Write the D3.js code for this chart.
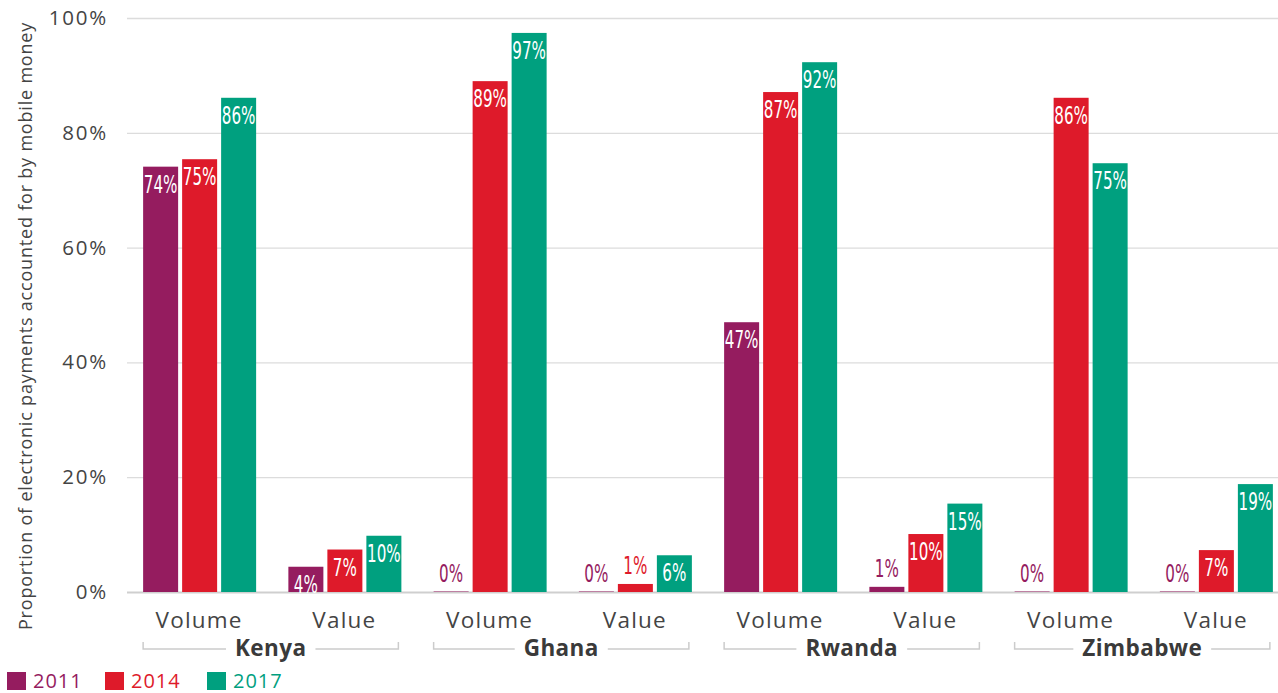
<!DOCTYPE html>
<html>
<head>
<meta charset="utf-8">
<script src="https://cdn.jsdelivr.net/npm/d3@7"></script>
<style>
  body { margin: 0; background: #fff; }
  svg { display: block; }
  .tick text { font-family: "Open Sans", sans-serif; }
</style>
</head>
<body>
<svg id="svg" width="1278" height="693"></svg>
<script>
"use strict";

// data
const countries = ["Kenya", "Ghana", "Rwanda", "Zimbabwe"];
const measures = ["Volume", "Value"];
const years = ["2011", "2014", "2017"];
const v2011 = [74.1, 4.4, 0, 0, 47.0, 0.9, 0, 0];
const v2014 = [75.4, 7.4, 89.0, 1.4, 87.1, 10.1, 86.1, 7.3];
const v2017 = [86.1, 9.8, 97.4, 6.4, 92.3, 15.4, 74.7, 18.8];
const yTicks = [0, 20, 40, 60, 80, 100];
const colors = ["#951c5f", "#de1a2a", "#00a07f"];

const series = [v2011, v2014, v2017];
const bars = countries.flatMap(c => measures.map(m => c + "|" + m));

const plotLeft = 127, plotRight = 1289, plotTop = 18, plotBottom = 592;
const labelFont = "'Liberation Sans Narrow', 'DejaVu Sans Condensed', sans-serif";
const textFont = "'Open Sans', sans-serif";

var svg = d3.select("svg");

var x0 = d3.scaleBand().domain(bars).range([plotLeft, plotRight]);
var x1 = d3.scaleBand().domain(years).range([0, 113]).paddingInner(4 / 39);
var barOffset = (x0.bandwidth() - 113) / 2;
var y = d3.scaleLinear().domain([0, 100]).range([plotBottom, plotTop]);
var color = d3.scaleOrdinal().domain(years).range(colors);

// grid + y labels
var yAxis = svg.append("g")
    .attr("transform", "translate(" + plotLeft + ",0)")
    .call(d3.axisLeft(y)
        .tickValues(yTicks)
        .tickFormat(d => d + "%")
        .tickSize(-(1278 - plotLeft))
        .tickPadding(19));
yAxis.select(".domain").remove();
yAxis.selectAll(".tick line")
    .attr("stroke", d => d === 0 ? "#cfcfcf" : "#dcdcdc")
    .attr("stroke-width", d => d === 0 ? 2 : 1.3);
yAxis.selectAll(".tick text")
    .attr("fill", "#444")
    .attr("font-size", 20.5)
    .attr("letter-spacing", 1.8);

svg.append("text")
    .attr("transform", "translate(32,326) rotate(-90)")
    .attr("text-anchor", "middle")
    .attr("font-family", textFont)
    .attr("font-size", 18)
    .attr("letter-spacing", 0.8)
    .attr("fill", "#444")
    .text("Proportion of electronic payments accounted for by mobile money");

// bars
var flat = [];
bars.forEach((b, i) => years.forEach((yr, j) => flat.push({ key: b, year: yr, value: series[j][i] })));

var g = svg.append("g");
var cell = g.selectAll(".bar")
    .data(flat)
    .enter()
    .append("g")
        .attr("class", "bar")
        .attr("transform", d => "translate(" + (x0(d.key) + barOffset + x1(d.year)) + ",0)");

cell.append("rect")
    .attr("y", d => Math.min(y(d.value), plotBottom - 1))
    .attr("width", x1.bandwidth())
    .attr("height", d => Math.max(1, plotBottom - y(d.value)))
    .attr("fill", d => color(d.year))
    .attr("opacity", d => d.value === 0 ? 0.5 : 1);

cell.append("text")
    .attr("transform", function(d) {
        var h = plotBottom - y(d.value);
        var ty = h >= 20 ? y(d.value) + 26 : y(d.value) - 10;
        return "translate(" + (x1.bandwidth() / 2) + "," + ty + ") scale(0.66,1)";
    })
    .attr("text-anchor", "middle")
    .attr("font-family", labelFont)
    .attr("font-size", 25.5)
    .attr("fill", d => (plotBottom - y(d.value)) >= 20 ? "#fff" : color(d.year))
    .text(d => Math.round(d.value) + "%");

// category labels
svg.selectAll(".measure")
    .data(bars)
    .enter()
    .append("text")
        .attr("class", "measure")
        .attr("x", d => x0(d) + barOffset + 56)
        .attr("y", 628)
        .attr("text-anchor", "middle")
        .attr("font-family", textFont)
        .attr("font-size", 22.5)
        .attr("letter-spacing", 1.2)
        .attr("fill", "#444")
        .text(d => d.split("|")[1]);

// country brackets
var country = svg.selectAll(".country")
    .data(countries)
    .enter()
    .append("g")
        .attr("class", "country");

country.each(function(c) {
    var sel = d3.select(this);
    var xa = x0(c + "|Volume") + barOffset;
    var xb = x0(c + "|Value") + barOffset + 110;
    var cx = (xa + xb) / 2;
    var t = sel.append("text")
        .attr("x", cx)
        .attr("y", 656)
        .attr("text-anchor", "middle")
        .attr("font-family", textFont)
        .attr("font-weight", 700)
        .attr("font-size", 22.5)
        .attr("letter-spacing", 0.4)
        .attr("fill", "#3a3a3a")
        .text(c);
    var w = t.node().getComputedTextLength() / 2 + 9;
    var ly = 649;
    sel.append("path")
        .attr("d", "M" + xa + "," + (ly - 7) + "V" + ly + "H" + (cx - w))
        .attr("fill", "none").attr("stroke", "#cccccc").attr("stroke-width", 1.5);
    sel.append("path")
        .attr("d", "M" + (cx + w) + "," + ly + "H" + xb + "V" + (ly - 7))
        .attr("fill", "none").attr("stroke", "#cccccc").attr("stroke-width", 1.5);
});

// legend
var legend = svg.selectAll(".legend")
    .data(years)
    .enter()
    .append("g")
        .attr("class", "legend")
        .attr("transform", (d, i) => "translate(" + [7, 105, 207][i] + ",672)");
legend.append("rect")
    .attr("width", 19)
    .attr("height", 18)
    .attr("fill", d => color(d));
legend.append("text")
    .attr("x", 26)
    .attr("y", 16)
    .attr("font-family", textFont)
    .attr("font-size", 20)
    .attr("letter-spacing", 1)
    .attr("fill", d => color(d))
    .text(d => d);
</script>
</body>
</html>
